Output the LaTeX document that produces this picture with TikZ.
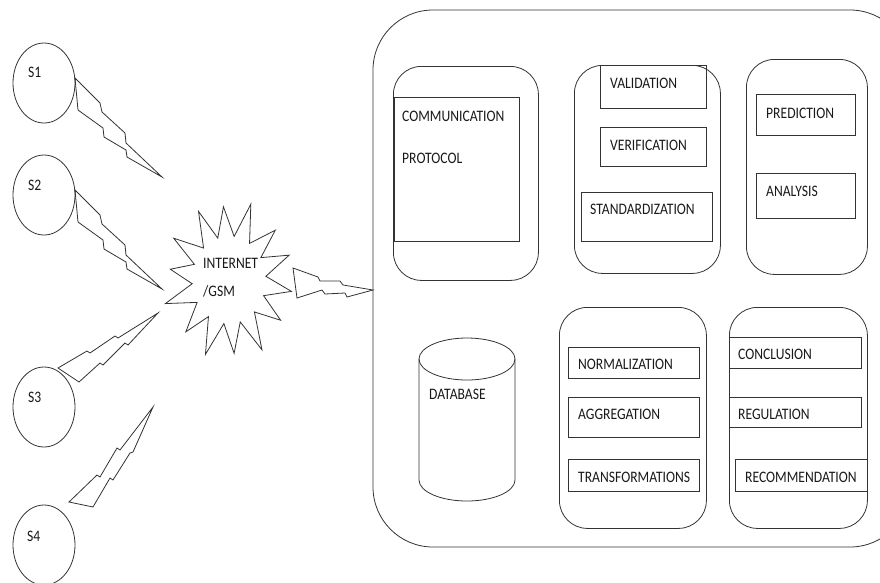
\documentclass[tikz,border=0pt]{standalone}
\usepackage{fontspec}
\setmainfont{Carlito}[FakeStretch=0.85]
\usetikzlibrary{shapes.geometric}
\begin{document}
\begin{tikzpicture}[x=1pt,y=-1pt,
  ln/.style={draw=black!80, line width=0.8pt},
  grp/.style={ln, rectangle, rounded corners=28pt, inner sep=0pt, anchor=north west},
  rbox/.style={ln, rectangle, inner sep=0pt, anchor=north west},
  lbl/.style={anchor=base west, inner sep=0pt, text=black!90, font=\fontsize{16}{18}\selectfont},
  sensor/.style={ln, ellipse, minimum width=62pt, minimum height=80pt, inner sep=0pt},
  bolt/.style={ln, line join=miter}]
\useasboundingbox (0,0) rectangle (880,582);
\clip (0,0) rectangle (880,582);

% outer system box
\draw[ln, rounded corners=60pt] (373,10) rectangle (910,547);

% groups
\node[grp, minimum width=145pt, minimum height=214pt] (gA) at (393,66) {};
\node[grp, minimum width=146pt, minimum height=208pt] (gB) at (574,65) {};
\node[grp, minimum width=121pt, minimum height=215pt] (gC) at (746,59) {};
\node[grp, minimum width=147pt, minimum height=221pt] (gD) at (559,307) {};
\node[grp, minimum width=138pt, minimum height=221pt] (gE) at (729,307) {};

% boxes
\node[rbox, minimum width=125pt, minimum height=144pt] (comm) at (394,97) {};
\node[rbox, minimum width=106pt, minimum height=43pt] (valid) at (600,65) {};
\node[rbox, minimum width=106pt, minimum height=39pt] (verif) at (600,127) {};
\node[rbox, minimum width=131pt, minimum height=49pt] (stand) at (581,192) {};
\node[rbox, minimum width=99pt, minimum height=41pt] (pred) at (756,94) {};
\node[rbox, minimum width=99pt, minimum height=45pt] (anal) at (756,173) {};
\node[rbox, minimum width=131pt, minimum height=31pt] (norm) at (568,347) {};
\node[rbox, minimum width=131pt, minimum height=40pt] (aggr) at (568,397) {};
\node[rbox, minimum width=131pt, minimum height=32pt] (trans) at (568,459) {};
\node[rbox, minimum width=132pt, minimum height=31pt] (concl) at (729,337) {};
\node[rbox, minimum width=132pt, minimum height=30pt] (regul) at (729,397) {};
\node[rbox, minimum width=132pt, minimum height=32pt] (recom) at (735,459) {};

% labels
\node[lbl] at (402,121.2) {COMMUNICATION};
\node[lbl] at (402,163.2) {PROTOCOL};
\node[lbl] at (610,88.2) {VALIDATION};
\node[lbl] at (610,150.2) {VERIFICATION};
\node[lbl] at (590,214.2) {STANDARDIZATION};
\node[lbl] at (766,118.2) {PREDICTION};
\node[lbl] at (766,196.2) {ANALYSIS};
\node[lbl] at (578,369.2) {NORMALIZATION};
\node[lbl] at (578,419.2) {AGGREGATION};
\node[lbl] at (578,482.2) {TRANSFORMATIONS};
\node[lbl] at (738,359.2) {CONCLUSION};
\node[lbl] at (738,419.2) {REGULATION};
\node[lbl] at (745,482.2) {RECOMMENDATION};

% database cylinder
\coordinate (db) at (467,359);
\draw[ln] (419,359) -- (419,480) arc[start angle=180, end angle=360, x radius=48pt, y radius=21pt] -- (515,359);
\draw[ln] (db) ellipse [x radius=48pt, y radius=21pt];
\node[lbl] (dbl) at (429,399.2) {DATABASE};

% sensors
\node[sensor] (s1) at (44,83) {};
\node[sensor] (s2) at (44,195) {};
\node[sensor] (s3) at (44,407) {};
\node[sensor] (s4) at (44,545) {};
\node[lbl] at (28,77.2) {S1};
\node[lbl] at (28,190.2) {S2};
\node[lbl] at (28,402.2) {S3};
\node[lbl] at (27,541.2) {S4};

% internet starburst
\coordinate (net) at (229,280);
\draw[ln, line join=miter] plot[samples at={0,...,27}, variable=\k]
  ({229 + ifthenelse(mod(\k,2)==0, 63*(1+0.06*sin(\k*97)), 37)*cos(\k*12.857+8)},
   {280 + ifthenelse(mod(\k,2)==0, 77*(1+0.06*cos(\k*83)), 44)*sin(\k*12.857+8)}) -- cycle;
\node[lbl] at (203,268.2) {INTERNET};
\node[lbl] at (203,296.2) {/GSM};

% lightning bolts
\draw[bolt] (75,78) -- (100,103) -- (102,112) -- (125,133) -- (126,143) -- (162,177)
  -- (127,157) -- (126,150) -- (104,137) -- (103,128) -- (78,110) -- cycle;
\draw[bolt] (75,190) -- (100,215) -- (102,224) -- (125,245) -- (126,255) -- (162,289)
  -- (127,269) -- (126,262) -- (104,249) -- (103,240) -- (78,222) -- cycle;
\draw[bolt] (58,368) -- (87,351) -- (90,353) -- (115,336) -- (118,338) -- (158,313)
  -- (128,345) -- (125,343) -- (103,365) -- (100,363) -- (79,382) -- cycle;
\draw[bolt] (69,502) -- (97,475) -- (100,477) -- (117,448) -- (120,450) -- (153,407)
  -- (133,452) -- (130,453) -- (113,480) -- (110,478) -- (93,507) -- cycle;
\draw[bolt] (293,268) -- (318,277) -- (320,281) -- (340,281) -- (343,285) -- (373,290)
  -- (347,297) -- (345,293) -- (325,294) -- (322,290) -- (297,298) -- cycle;
\end{tikzpicture}
\end{document}
